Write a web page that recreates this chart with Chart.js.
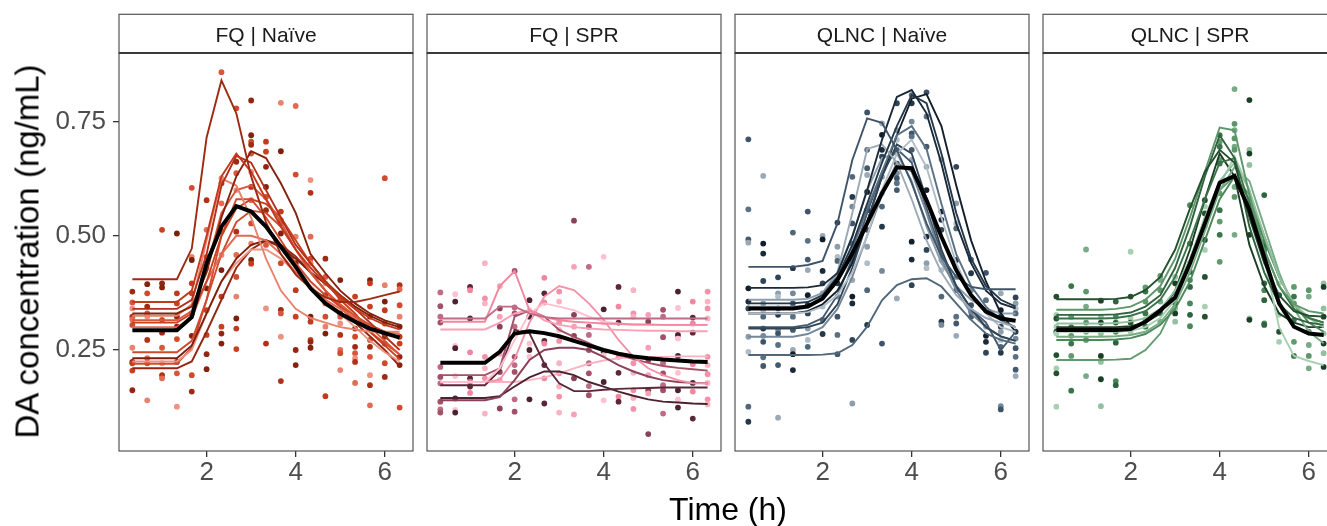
<!DOCTYPE html>
<html>
<head>
<meta charset="utf-8">
<script src="https://cdn.jsdelivr.net/npm/chart.js@4"></script>
<style>
  html, body { margin:0; padding:0; background:#fff; }
  body { width:1327px; height:526px; overflow:hidden; position:relative; font-family:"Liberation Sans", Arial, sans-serif; }
  canvas { position:absolute; top:0; }
  .ttl { position:absolute; color:#000; text-align:center; white-space:nowrap; font-family:"Liberation Sans", Arial, sans-serif; }
</style>
</head>
<body>
<canvas id="c0" width="419" height="526" style="left:0px"></canvas>
<canvas id="c1" width="306" height="526" style="left:421px"></canvas>
<canvas id="c2" width="306" height="526" style="left:729px"></canvas>
<canvas id="c3" width="306" height="526" style="left:1037px"></canvas>
<div class="ttl" id="ytitle" style="left:-173.4px; top:234.5px; width:400px; height:33px; line-height:33px; font-size:33px; transform:rotate(-90deg);">DA concentration (ng/mL)</div>
<div class="ttl" id="xtitle" style="left:528px; top:493px; width:400px; height:32px; line-height:32px; font-size:32px;">Time (h)</div>
<script>
// ---------- data ----------
const times = [0.333, 0.667, 1, 1.333, 1.667, 2, 2.333, 2.667, 3, 3.333, 3.667, 4, 4.333, 4.667, 5, 5.333, 5.667, 6, 6.333];
const xTickValues = [2, 4, 6];
const yTickValues = [0.25, 0.50, 0.75];
const panelLabels = ['FQ | Naïve', 'FQ | SPR', 'QLNC | Naïve', 'QLNC | SPR'];

// FQ | Naïve
const fqNaiveMean = [0.293,0.293,0.293,0.293,0.322,0.44,0.52,0.565,0.553,0.52,0.476,0.432,0.385,0.352,0.33,0.312,0.297,0.287,0.277];
const fqNaiveFits = [
  [0.405,0.405,0.405,0.405,0.472,0.715,0.84,0.768,0.63,0.53,0.46,0.415,0.385,0.365,0.355,0.355,0.362,0.37,0.378],
  [0.355,0.355,0.355,0.355,0.38,0.50,0.63,0.68,0.64,0.58,0.52,0.47,0.43,0.395,0.365,0.34,0.32,0.305,0.295],
  [0.34,0.34,0.34,0.34,0.36,0.46,0.61,0.675,0.66,0.60,0.54,0.48,0.44,0.40,0.37,0.34,0.31,0.28,0.25],
  [0.33,0.33,0.33,0.33,0.345,0.42,0.54,0.63,0.685,0.67,0.615,0.55,0.46,0.418,0.38,0.352,0.33,0.315,0.305],
  [0.325,0.325,0.325,0.325,0.35,0.49,0.625,0.61,0.54,0.45,0.38,0.34,0.32,0.31,0.30,0.295,0.29,0.29,0.29],
  [0.315,0.315,0.315,0.315,0.335,0.43,0.55,0.60,0.61,0.58,0.53,0.47,0.42,0.38,0.35,0.325,0.30,0.27,0.24],
  [0.31,0.31,0.31,0.31,0.33,0.40,0.50,0.56,0.58,0.57,0.54,0.49,0.44,0.40,0.36,0.33,0.29,0.26,0.23],
  [0.30,0.30,0.30,0.30,0.32,0.40,0.46,0.50,0.50,0.49,0.46,0.42,0.385,0.36,0.34,0.32,0.30,0.29,0.285],
  [0.245,0.245,0.245,0.245,0.27,0.36,0.46,0.53,0.555,0.55,0.52,0.47,0.42,0.38,0.345,0.315,0.29,0.265,0.24],
  [0.232,0.232,0.232,0.232,0.26,0.33,0.40,0.45,0.48,0.49,0.475,0.45,0.42,0.395,0.37,0.345,0.325,0.31,0.30],
  [0.225,0.225,0.225,0.225,0.25,0.33,0.40,0.44,0.47,0.47,0.45,0.42,0.39,0.36,0.33,0.30,0.27,0.245,0.225],
  [0.21,0.21,0.21,0.21,0.225,0.29,0.36,0.43,0.47,0.49,0.48,0.455,0.42,0.38,0.345,0.31,0.28,0.25,0.215],
  [0.22,0.22,0.22,0.22,0.255,0.36,0.50,0.58,0.58,0.54,0.49,0.44,0.40,0.37,0.345,0.325,0.305,0.29,0.275]
];
const fqNaiveObs = [
  [0.378,0.354,0.341,0.323,0.317,0.305,0.255,0.224,0.221,0.205,0.162],
  [0.394,0.374,0.345,0.33,0.323,0.272,0.232,0.221,0.14],
  [0.513,0.396,0.387,0.316,0.288,0.255,0.221,0.195,0.188],
  [0.505,0.374,0.352,0.323,0.301,0.274,0.224,0.199,0.126],
  [0.605,0.454,0.447,0.396,0.374,0.33,0.281,0.195,0.159],
  [0.578,0.513,0.454,0.429,0.385,0.337,0.283,0.241,0.208],
  [0.858,0.626,0.615,0.571,0.509,0.458,0.425,0.367,0.301,0.286,0.264],
  [0.779,0.662,0.637,0.6,0.509,0.458,0.41,0.367,0.319,0.297,0.252],
  [0.796,0.72,0.706,0.699,0.68,0.64,0.607,0.578,0.527,0.483,0.447,0.439],
  [0.706,0.684,0.651,0.607,0.585,0.556,0.48,0.341,0.264],
  [0.791,0.685,0.553,0.534,0.527,0.505,0.44,0.338,0.33,0.279,0.182],
  [0.784,0.634,0.498,0.44,0.381,0.323,0.25,0.217],
  [0.622,0.594,0.498,0.45,0.44,0.323,0.312,0.272,0.268,0.255],
  [0.45,0.41,0.396,0.37,0.352,0.323,0.301,0.286,0.149],
  [0.403,0.359,0.33,0.323,0.308,0.283,0.25,0.243,0.206],
  [0.367,0.323,0.297,0.279,0.257,0.243,0.232,0.224,0.178],
  [0.403,0.396,0.345,0.323,0.297,0.272,0.257,0.235,0.195,0.173,0.129],
  [0.626,0.392,0.356,0.337,0.308,0.279,0.264,0.221,0.191],
  [0.392,0.383,0.348,0.323,0.301,0.279,0.264,0.235,0.217,0.124]
];
const fqNaiveColors = ['#9e2a12','#c2391c','#b33018','#85220e','#e9826d','#d9563d','#c8401f','#e26a52','#cf4a2c','#7c1f0d','#ec9280','#932611','#d24a30'];

// FQ | SPR
const fqSprMean = [0.222,0.222,0.222,0.222,0.246,0.286,0.291,0.287,0.28,0.27,0.26,0.25,0.242,0.236,0.232,0.229,0.227,0.225,0.224];
const fqSprFits = [
  [0.319,0.319,0.319,0.319,0.345,0.345,0.33,0.322,0.319,0.319,0.319,0.319,0.319,0.319,0.319,0.319,0.319,0.319,0.319],
  [0.312,0.312,0.312,0.312,0.39,0.423,0.337,0.322,0.315,0.312,0.31,0.308,0.307,0.306,0.306,0.305,0.305,0.305,0.305],
  [0.295,0.295,0.295,0.295,0.31,0.33,0.337,0.315,0.305,0.30,0.297,0.295,0.294,0.293,0.292,0.292,0.291,0.291,0.291],
  [0.18,0.18,0.18,0.18,0.21,0.272,0.33,0.352,0.345,0.337,0.323,0.312,0.308,0.306,0.305,0.305,0.305,0.305,0.305],
  [0.18,0.18,0.18,0.18,0.185,0.23,0.31,0.367,0.39,0.381,0.352,0.316,0.272,0.235,0.21,0.195,0.184,0.177,0.177],
  [0.195,0.195,0.195,0.195,0.21,0.323,0.337,0.323,0.294,0.279,0.265,0.25,0.24,0.23,0.222,0.215,0.211,0.208,0.205],
  [0.173,0.173,0.173,0.173,0.205,0.294,0.287,0.22,0.177,0.16,0.16,0.163,0.165,0.166,0.167,0.168,0.168,0.168,0.168],
  [0.14,0.14,0.14,0.14,0.147,0.184,0.228,0.25,0.255,0.255,0.25,0.235,0.217,0.203,0.192,0.184,0.18,0.178,0.177],
  [0.145,0.145,0.145,0.145,0.149,0.17,0.19,0.203,0.203,0.195,0.18,0.17,0.159,0.15,0.142,0.137,0.135,0.133,0.132],
  [0.18,0.18,0.18,0.18,0.18,0.18,0.184,0.19,0.199,0.21,0.22,0.227,0.232,0.234,0.235,0.235,0.236,0.236,0.236]
];
const fqSprObs = [
  [0.376,0.346,0.323,0.31,0.213,0.191,0.177,0.137,0.12,0.113],
  [0.372,0.356,0.259,0.254,0.193,0.144,0.119,0.113],
  [0.388,0.381,0.319,0.245,0.188,0.18,0.17,0.156],
  [0.44,0.363,0.352,0.235,0.21,0.188,0.111],
  [0.39,0.341,0.323,0.301,0.242,0.202,0.184,0.122],
  [0.423,0.343,0.33,0.301,0.235,0.217,0.202,0.142,0.115],
  [0.359,0.337,0.323,0.264,0.25,0.235,0.142],
  [0.408,0.374,0.354,0.27,0.264,0.217,0.188,0.133],
  [0.378,0.356,0.31,0.294,0.27,0.221,0.199,0.17,0.148,0.113],
  [0.533,0.432,0.327,0.301,0.281,0.272,0.188,0.109],
  [0.432,0.301,0.283,0.25,0.221,0.199,0.171,0.151],
  [0.454,0.339,0.31,0.246,0.239,0.18,0.14],
  [0.388,0.345,0.31,0.235,0.2,0.148,0.137],
  [0.381,0.33,0.323,0.221,0.2,0.162,0.145,0.121],
  [0.327,0.312,0.255,0.228,0.195,0.162,0.155,0.066],
  [0.338,0.323,0.278,0.221,0.199,0.173,0.162,0.111],
  [0.378,0.342,0.283,0.275,0.237,0.2,0.162,0.142,0.124],
  [0.356,0.321,0.308,0.288,0.219,0.178,0.159,0.1],
  [0.378,0.356,0.341,0.319,0.235,0.217,0.197,0.178,0.142,0.131]
];
const fqSprColors = ['#c06b86','#f3869f','#f8a1b6','#ffc1cf','#f391a9','#a45069','#5c2838','#8a4258','#4b2230','#f9b3c3'];

// QLNC | Naïve
const qlncNaiveMean = [0.341,0.341,0.341,0.341,0.345,0.363,0.403,0.461,0.527,0.593,0.65,0.648,0.578,0.498,0.425,0.37,0.334,0.319,0.314];
const qlncNaiveFits = [
  [0.432,0.432,0.432,0.432,0.436,0.445,0.527,0.666,0.757,0.747,0.688,0.615,0.527,0.455,0.41,0.388,0.383,0.383,0.383],
  [0.386,0.386,0.386,0.386,0.387,0.392,0.418,0.498,0.60,0.71,0.804,0.819,0.768,0.658,0.527,0.44,0.38,0.352,0.341],
  [0.352,0.352,0.352,0.352,0.355,0.37,0.41,0.48,0.57,0.66,0.74,0.808,0.79,0.68,0.55,0.45,0.39,0.36,0.345],
  [0.345,0.345,0.345,0.345,0.347,0.36,0.42,0.55,0.69,0.70,0.66,0.58,0.49,0.42,0.37,0.34,0.32,0.31,0.30],
  [0.33,0.33,0.33,0.33,0.333,0.345,0.37,0.42,0.50,0.60,0.68,0.71,0.65,0.54,0.44,0.37,0.33,0.30,0.29],
  [0.34,0.34,0.34,0.34,0.345,0.36,0.40,0.47,0.56,0.64,0.72,0.74,0.69,0.57,0.46,0.39,0.345,0.315,0.30],
  [0.297,0.297,0.297,0.297,0.30,0.31,0.35,0.43,0.53,0.63,0.70,0.68,0.58,0.47,0.39,0.34,0.30,0.28,0.27],
  [0.279,0.279,0.279,0.279,0.285,0.30,0.34,0.41,0.50,0.59,0.66,0.64,0.55,0.45,0.38,0.33,0.30,0.28,0.27],
  [0.33,0.33,0.33,0.33,0.335,0.35,0.38,0.44,0.53,0.63,0.72,0.80,0.81,0.74,0.61,0.49,0.40,0.33,0.29],
  [0.239,0.239,0.239,0.239,0.239,0.24,0.243,0.261,0.301,0.359,0.392,0.405,0.407,0.389,0.352,0.316,0.286,0.272,0.264],
  [0.30,0.30,0.30,0.30,0.305,0.32,0.37,0.45,0.55,0.64,0.69,0.66,0.56,0.46,0.39,0.34,0.31,0.25,0.29],
  [0.36,0.36,0.36,0.36,0.362,0.375,0.42,0.50,0.60,0.67,0.68,0.62,0.52,0.44,0.39,0.36,0.34,0.33,0.33]
];
const qlncNaiveObs = [
  [0.711,0.558,0.492,0.485,0.385,0.356,0.341,0.279,0.246,0.126,0.093],
  [0.631,0.483,0.461,0.401,0.352,0.337,0.323,0.297,0.281,0.268,0.234,0.215],
  [0.409,0.374,0.367,0.341,0.327,0.294,0.286,0.261,0.217,0.102],
  [0.507,0.429,0.374,0.352,0.323,0.294,0.25,0.241,0.206],
  [0.553,0.489,0.448,0.425,0.37,0.348,0.33,0.297,0.272,0.257],
  [0.5,0.492,0.423,0.396,0.374,0.345,0.316,0.285],
  [0.529,0.476,0.454,0.445,0.396,0.367,0.323,0.283,0.241],
  [0.629,0.585,0.564,0.527,0.483,0.447,0.403,0.367,0.352,0.272,0.133],
  [0.77,0.688,0.648,0.633,0.596,0.556,0.513,0.476,0.44,0.381,0.305],
  [0.746,0.721,0.688,0.673,0.629,0.593,0.564,0.52,0.423,0.264],
  [0.79,0.731,0.71,0.688,0.658,0.637,0.626,0.615,0.6,0.363],
  [0.808,0.79,0.75,0.724,0.717,0.688,0.666,0.487,0.448,0.392],
  [0.814,0.761,0.695,0.651,0.6,0.498,0.469,0.44,0.429],
  [0.667,0.553,0.535,0.513,0.447,0.425,0.367,0.312,0.305],
  [0.651,0.571,0.527,0.516,0.447,0.41,0.381,0.323,0.308,0.281],
  [0.448,0.418,0.381,0.348,0.334,0.323],
  [0.419,0.359,0.337,0.301,0.281,0.268,0.244],
  [0.374,0.337,0.323,0.301,0.29,0.272,0.257,0.244,0.127,0.12],
  [0.365,0.352,0.341,0.33,0.29,0.275,0.254,0.235,0.207,0.193]
];
const qlncNaiveColors = ['#3f5468','#1a2a38','#25384a','#9aa9b5','#b2bec7','#5a7083','#304457','#748899','#121e2a','#50677a','#44596c','#8c9dab'];

// QLNC | SPR
const qlncSprMean = [0.294,0.294,0.294,0.294,0.294,0.296,0.312,0.337,0.365,0.44,0.527,0.616,0.631,0.556,0.454,0.352,0.301,0.286,0.283];
const qlncSprFits = [
  [0.361,0.361,0.361,0.361,0.362,0.366,0.381,0.41,0.47,0.56,0.64,0.688,0.66,0.54,0.44,0.37,0.335,0.325,0.323],
  [0.338,0.338,0.338,0.338,0.34,0.345,0.36,0.39,0.45,0.54,0.64,0.737,0.731,0.59,0.47,0.39,0.35,0.335,0.33],
  [0.327,0.327,0.327,0.327,0.328,0.332,0.345,0.37,0.43,0.52,0.63,0.72,0.67,0.52,0.42,0.35,0.32,0.31,0.305],
  [0.319,0.319,0.319,0.319,0.32,0.325,0.335,0.36,0.41,0.49,0.58,0.66,0.67,0.57,0.47,0.39,0.34,0.32,0.31],
  [0.308,0.308,0.308,0.308,0.309,0.312,0.32,0.34,0.38,0.45,0.54,0.62,0.66,0.60,0.50,0.41,0.35,0.32,0.30],
  [0.29,0.29,0.29,0.29,0.29,0.292,0.30,0.32,0.36,0.43,0.52,0.61,0.674,0.60,0.45,0.30,0.237,0.226,0.217],
  [0.279,0.279,0.279,0.279,0.28,0.283,0.29,0.31,0.35,0.42,0.51,0.60,0.65,0.62,0.52,0.42,0.34,0.29,0.265],
  [0.272,0.272,0.272,0.272,0.273,0.276,0.285,0.305,0.34,0.40,0.49,0.58,0.63,0.58,0.49,0.41,0.35,0.31,0.29],
  [0.228,0.228,0.228,0.228,0.229,0.231,0.25,0.286,0.352,0.44,0.54,0.60,0.63,0.59,0.50,0.41,0.35,0.32,0.31],
  [0.30,0.30,0.30,0.30,0.30,0.302,0.31,0.33,0.38,0.47,0.58,0.68,0.63,0.48,0.39,0.33,0.31,0.30,0.30]
];
const qlncSprObs = [
  [0.367,0.327,0.319,0.301,0.29,0.286,0.239,0.21,0.199,0.126],
  [0.39,0.323,0.3,0.281,0.264,0.237,0.161],
  [0.47,0.378,0.345,0.31,0.29,0.272,0.193],
  [0.358,0.323,0.31,0.286,0.237,0.224,0.186,0.127],
  [0.356,0.323,0.31,0.29,0.266,0.182,0.173],
  [0.465,0.367,0.319,0.31,0.29],
  [0.387,0.378,0.356,0.33,0.316,0.301],
  [0.412,0.403,0.381,0.356,0.33,0.312],
  [0.41,0.396,0.374,0.352,0.341,0.33,0.312],
  [0.567,0.483,0.44,0.421,0.403,0.388,0.352,0.327,0.302],
  [0.578,0.564,0.549,0.52,0.491,0.469,0.41,0.345,0.323],
  [0.72,0.706,0.695,0.666,0.658,0.593,0.556,0.531,0.502,0.443],
  [0.821,0.745,0.731,0.713,0.695,0.688,0.607,0.585,0.502],
  [0.797,0.688,0.68,0.655,0.571,0.556,0.502,0.319,0.316],
  [0.589,0.487,0.476,0.469,0.396,0.381,0.359,0.308,0.305],
  [0.396,0.37,0.327,0.29,0.268],
  [0.388,0.367,0.352,0.316,0.268,0.237],
  [0.381,0.367,0.29,0.261,0.237,0.21],
  [0.396,0.388,0.341,0.323,0.286,0.264,0.243,0.213]
];
const qlncSprColors = ['#24502f','#5c9669','#2f6340','#3c7449','#93c09e','#a8cfb1','#78ab85','#4a8759','#5f9b6d','#1b3f26'];

// ---------- chart building ----------
const panels = [
  { id:'c0', mean:fqNaiveMean, fits:fqNaiveFits, obs:fqNaiveObs, colors:fqNaiveColors },
  { id:'c1', mean:fqSprMean, fits:fqSprFits, obs:fqSprObs, colors:fqSprColors },
  { id:'c2', mean:qlncNaiveMean, fits:qlncNaiveFits, obs:qlncNaiveObs, colors:qlncNaiveColors },
  { id:'c3', mean:qlncSprMean, fits:qlncSprFits, obs:qlncSprObs, colors:qlncSprColors }
];

const FONT = '"Liberation Sans", Arial, sans-serif';

const decor = {
  id: 'decor',
  afterDraw(chart, args, opts) {
    const { left, right, top, bottom } = chart.chartArea;
    const ctx = chart.ctx;
    ctx.save();
    ctx.strokeStyle = '#555';
    ctx.lineWidth = 1.2;
    ctx.strokeRect(left, top, right - left, bottom - top);
    const stripTop = 14.3;
    ctx.fillStyle = '#fff';
    ctx.fillRect(left, stripTop, right - left, top - stripTop);
    ctx.strokeRect(left, stripTop, right - left, top - stripTop);
    ctx.strokeStyle = '#3a3a3a';
    ctx.lineWidth = 2.2;
    ctx.beginPath(); ctx.moveTo(left, top); ctx.lineTo(right, top); ctx.stroke();
    ctx.fillStyle = '#1a1a1a';
    ctx.font = '21px ' + FONT;
    ctx.textAlign = 'center';
    ctx.textBaseline = 'alphabetic';
    ctx.fillText(opts.label, (left + right) / 2, 41.7);
    ctx.restore();
  }
};

panels.forEach((p, i) => {
  const datasets = [];
  datasets.push({
    data: p.mean.map((v, k) => ({ x: times[k], y: v })),
    showLine: true, borderColor: '#000', borderWidth: 4, pointRadius: 0, order: 0
  });
  p.fits.forEach((f, s) => {
    datasets.push({
      data: f.map((v, k) => ({ x: times[k], y: v })),
      showLine: true, borderColor: p.colors[s % p.colors.length], borderWidth: 1.9, pointRadius: 0, order: 1
    });
  });
  const pts = [], pc = [];
  p.obs.forEach((col, k) => col.forEach((v, j) => {
    pts.push({ x: times[k], y: v });
    pc.push(p.colors[(j * 5 + k * 3) % p.colors.length]);
  }));
  datasets.push({
    data: pts, showLine: false, pointRadius: 2.9, pointBorderWidth: 0,
    pointBackgroundColor: pc, backgroundColor: pc, borderWidth: 0, order: 2
  });

  const showY = i === 0;
  new Chart(document.getElementById(p.id), {
    type: 'scatter',
    data: { datasets },
    plugins: [decor],
    options: {
      responsive: false,
      animation: false,
      events: [],
      devicePixelRatio: 1,
      layout: { padding: { top: 53, bottom: 0, left: showY ? 0 : 6, right: 6 } },
      plugins: { legend: { display: false }, tooltip: { enabled: false }, decor: { label: panelLabels[i] } },
      scales: {
        x: {
          type: 'linear', min: 0.0333, max: 6.6333,
          afterBuildTicks: (s) => { s.ticks = xTickValues.map(v => ({ value: v })); },
          afterFit: (s) => { s.height = 75; },
          border: { display: false },
          grid: { display: true, drawOnChartArea: false, drawTicks: true, tickLength: 6, color: '#333', lineWidth: 1.3 },
          ticks: { color: '#4d4d4d', font: { size: 26, family: FONT }, padding: 0, maxRotation: 0, callback: v => String(v) }
        },
        y: {
          type: 'linear', min: 0.029, max: 0.9, display: showY,
          afterBuildTicks: (s) => { s.ticks = yTickValues.map(v => ({ value: v })); },
          afterFit: (s) => { s.width = showY ? 119 : 0; },
          border: { display: false },
          grid: { display: true, drawOnChartArea: false, drawTicks: true, tickLength: 6, color: '#333', lineWidth: 1.3 },
          ticks: { color: '#4d4d4d', font: { size: 26, family: FONT }, padding: 7, callback: v => v.toFixed(2) }
        }
      }
    }
  });
});
</script>
</body>
</html>
